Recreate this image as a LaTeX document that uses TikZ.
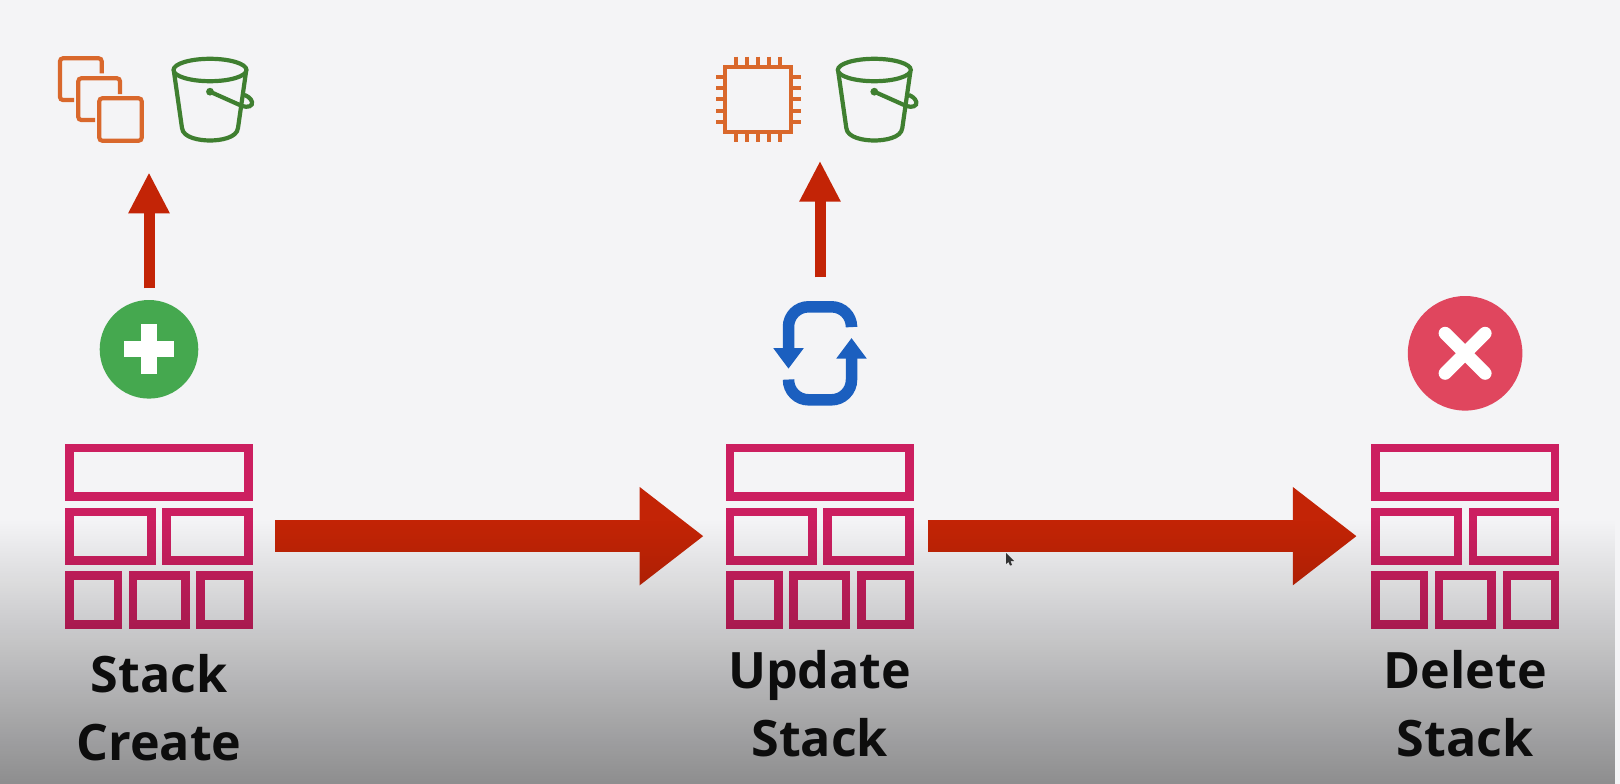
\documentclass[tikz,border=0pt]{standalone}
\usepackage{fontspec}
\usepackage{tikz}
\usetikzlibrary{positioning,arrows.meta,fadings,calc}
\newfontfamily\labelfont{Open Sans}
\definecolor{pagebg}{HTML}{F4F4F6}
\definecolor{brickpink}{HTML}{CC1F60}
\definecolor{arrowred}{HTML}{C32406}
\definecolor{iconorange}{HTML}{D9682C}
\definecolor{bucketgreen}{HTML}{3F7F30}
\definecolor{plusgreen}{HTML}{45A84F}
\definecolor{crossred}{HTML}{E0465E}
\definecolor{refreshblue}{HTML}{1B5FBF}
\tikzfading[name=lowerfade, top color=transparent!100, bottom color=transparent!58]
\tikzset{
    stacknode/.style={minimum width=187.4pt, minimum height=184.3pt, inner sep=0pt, outer sep=0pt},
    stacklabel/.style={inner sep=0pt, outer sep=0pt, align=center, text=black!95,
        font=\labelfont\bfseries\fontsize{50.2}{67.7}\selectfont},
    bigarrow/.style={arrowred, line width=32pt, -{Triangle[length=64pt,width=94pt]}},
    smallarrow/.style={arrowred, line width=11pt, -{Triangle[length=41pt,width=38.5pt]}},
    refreshline/.style={refreshblue, line width=11.5pt, rounded corners=20pt, -{Triangle[length=20.5pt,width=29pt]}},
    brick/.style={brickpink, line width=8.6pt},
    bucketline/.style={bucketgreen, line width=4.2pt},
    orangeline/.style={iconorange, line width=4.2pt},
    brickstack/.pic={
        \draw[brick] (-89.7,-88.15) rectangle (89.7,-39.45);
        \draw[brick] (-89.7,-24.15) rectangle (-7.3,24.55);
        \draw[brick] (7.7,-24.15) rectangle (89.7,24.55);
        \draw[brick] (-89.7,39.55) rectangle (-41,88.15);
        \draw[brick] (-26,39.55) rectangle (26.3,88.15);
        \draw[brick] (41.7,39.55) rectangle (89.7,88.15);
    },
    bucket/.pic={
        \draw[bucketline] (0,0) ellipse (36.5pt and 11.2pt);
        \draw[bucketline] (-36,2) -- (-28,58) .. controls (-27,68) and (-10,70.5) .. (0,70.5) .. controls (10,70.5) and (27,68) .. (28,58) -- (36,2);
        \fill[bucketgreen] (0,21.7) circle (3.9pt);
        \draw[bucketline] (0,21.7) -- (32,36) .. controls (38,38) and (43,36) .. (42,32) .. controls (41,28) and (37,26) .. (34.5,25);
    }
}
\begin{document}
\begin{tikzpicture}[x=1pt,y=-1pt]
    \useasboundingbox (0,0) rectangle (1620,784);
    \fill[pagebg] (0,0) rectangle (1620,784);

    \node [stacknode] (create) at (159,536.15) {};
    \node [stacknode, right=473.3pt of create] (update) {};
    \node [stacknode, right=458pt of update] (delete) {};
    \pic at (create) {brickstack};
    \pic at (update) {brickstack};
    \pic at (delete) {brickstack};

    \draw [bigarrow, shorten <=22.6pt, shorten >=22.4pt] (create) -- (update);
    \draw [bigarrow, shorten <=14.5pt, shorten >=14.6pt] (update) -- (delete);

    \node [circle, fill=plusgreen, minimum size=98.6pt, inner sep=0pt, outer sep=0pt] (plus) at (149,349.3) {};
    \fill [white] ($(plus)+(-8,-25)$) rectangle ($(plus)+(8,25)$);
    \fill [white] ($(plus)+(-25,-8)$) rectangle ($(plus)+(25,8)$);

    \node [circle, fill=crossred, minimum size=114.6pt, inner sep=0pt, outer sep=0pt, above=33.4pt of delete] (cross) {};
    \draw [white, line width=13pt, line cap=round] ($(cross)+(-20,-20)$) -- ($(cross)+(20,20)$);
    \draw [white, line width=13pt, line cap=round] ($(cross)+(-20,20)$) -- ($(cross)+(20,-20)$);

    \node [minimum width=95pt, minimum height=108pt, inner sep=0pt, outer sep=0pt] (refresh) at (820,353) {};
    \draw [refreshline] (851.5,325.7) -- (851.5,306.8) -- (788.5,306.8) -- (788.5,368.7);
    \draw [refreshline] (788.5,380.7) -- (788.5,399.8) -- (851.5,399.8) -- (851.5,338);

    \coordinate (createtop) at (149,172.3);
    \coordinate (updatetop) at (820,160.7);
    \draw [smallarrow, shorten <=11.7pt] (plus) -- (createtop);
    \draw [smallarrow, shorten <=21.7pt] (refresh) -- (updatetop);

    \draw [orangeline, rounded corners=3pt] (101.7,73.3) -- (101.7,58.3) -- (60,58.3) -- (60,100) -- (74,100);
    \draw [orangeline, rounded corners=3pt] (120,94) -- (120,78.3) -- (78.3,78.3) -- (78.3,120) -- (95,120);
    \draw [orangeline, rounded corners=3pt] (99.3,98.3) rectangle (141.7,140.7);

    \draw [orangeline] (725,66.7) rectangle (791,131.7);
    \foreach \pos in {735.7,746.7,757.7,769,780} {
        \draw [orangeline] (\pos,56.7) -- (\pos,66.7);
        \draw [orangeline] (\pos,131.7) -- (\pos,141.7);
    }
    \foreach \pos in {77.3,88.3,99.3,110.7,121.7} {
        \draw [orangeline] (716,\pos) -- (725,\pos);
        \draw [orangeline] (791,\pos) -- (800.7,\pos);
    }

    \pic at (210,70) {bucket};
    \pic at (874.3,70) {bucket};

    \fill [black, path fading=lowerfade] (0,520) rectangle (1620,784);

    \fill [black!80] (1006,553) -- (1014,561) -- (1010.5,561) -- (1012,565) -- (1010,565.5) -- (1008.5,562) -- (1006,564) -- cycle;

    \node [stacklabel, below=26pt of create] (createlabel) {Stack\\Create};
    \node [stacklabel, below=22pt of update] (updatelabel) {Update\\Stack};
    \node [stacklabel, below=22pt of delete] (deletelabel) {Delete\\Stack};
\end{tikzpicture}
\end{document}
